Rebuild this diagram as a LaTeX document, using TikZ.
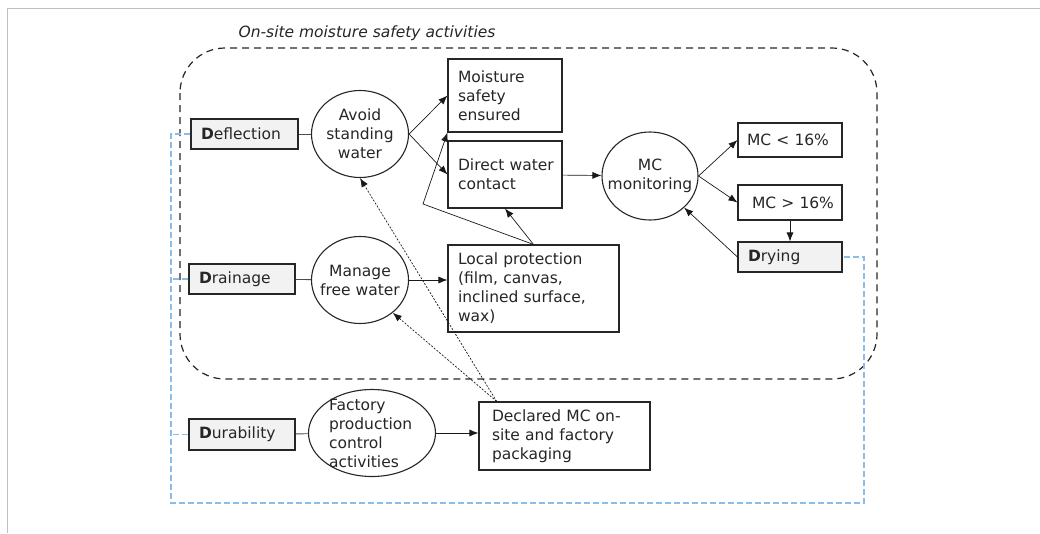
\documentclass[tikz,border=0pt]{standalone}
\usepackage{fontspec}
\setmainfont{DejaVu Sans}
\usetikzlibrary{shapes.geometric,arrows.meta}
\definecolor{guideblue}{RGB}{140,188,232}

\begin{document}
\begin{tikzpicture}[x=1pt,y=-1pt,font=\fontsize{15.5}{19}\selectfont,
  box/.style={draw=black!85,line width=1.1pt,fill=white,text=black!85,align=left,inner xsep=10pt,inner ysep=0pt},
  dbox/.style={box,fill=gray!10},
  oval/.style={draw=black!85,line width=1.1pt,ellipse,text=black!85,align=center,inner xsep=-14pt,inner ysep=-12pt},
  arr/.style={-{Latex[length=9pt,width=7pt]},line width=0.7pt,draw=black!90},
  link/.style={line width=0.9pt,draw=black!70},
  guide/.style={dash pattern=on 6pt off 3pt,line width=1.2pt,draw=guideblue}]
  \useasboundingbox (0,0) rectangle (1040,533);
  \draw[gray!50,line width=1pt] (7.5,533) -- (7.5,8) -- (1040,8);
  \node[text=black!85,font=\fontsize{15.5}{19}\selectfont\itshape] (title) at (367,33) {On-site moisture safety activities};
  \node[dbox,text width=87pt,minimum height=30pt] (deflection) at (244.5,134) {\textbf{D}eflection};
  \node[dbox,text width=86pt,minimum height=30pt] (drainage) at (242,279) {\textbf{D}rainage};
  \node[dbox,text width=86pt,minimum height=31pt] (durability) at (242,434.5) {\textbf{D}urability};
  \node[oval,minimum width=97pt,minimum height=87pt] (avoid) at (360,134) {Avoid\\standing\\water};
  \node[oval,minimum width=97pt,minimum height=87pt] (manage) at (360,280) {Manage\\free water};
  \node[oval,minimum width=127pt,minimum height=87pt,align=left,text width=86pt] (factory) at (372,433) {Factory\\production\\control\\activities};
  \node[box,text width=94pt,minimum height=73pt] (safe) at (505,95.5) {Moisture\\safety\\ensured};
  \node[box,text width=100pt,inner xsep=7pt,minimum height=67pt] (direct) at (505,174.5) {\hspace{3pt}Direct water\\\hspace{3pt}contact};
  \node[box,text width=151pt,minimum height=87pt] (local) at (533.5,288.5) {Local protection\\(film, canvas,\\inclined surface,\\wax)};
  \node[box,text width=145pt,inner xsep=13pt,minimum height=68pt] (declared) at (564.5,436) {Declared MC on-\\site and factory\\packaging};
  \node[oval,minimum width=96pt,minimum height=88pt] (monitor) at (650,176) {MC\\monitoring};
  \node[box,text width=90pt,inner xsep=7pt,minimum height=34pt] (low) at (790,140) {\hspace{2pt}MC < 16\%};
  \node[box,text width=90pt,inner xsep=7pt,minimum height=35pt] (high) at (790,202.5) {\hspace{7pt}MC > 16\%};
  \node[dbox,text width=84pt,minimum height=30pt] (drying) at (790,257) {\textbf{D}rying};
  \draw[dash pattern=on 7pt off 5pt,line width=1.2pt,black!85,rounded corners=45pt] (180,48) rectangle (877,379);
  \coordinate (kink) at (423,204);
  \coordinate (gl) at (171,503);
  \coordinate (gr) at (864,503);
  \draw[guide] (deflection.west) -| (gl) -- (gr) |- (drying.east);
  \draw[guide] (drainage.west) -- (drainage.west -| gl);
  \draw[guide] (durability.west) -- (durability.west -| gl);
  \draw[link] (deflection) -- (avoid);
  \draw[link] (drainage) -- (manage);
  \draw[link] (durability) -- (factory);
  \draw[arr] (avoid.east) -- (safe.west);
  \draw[arr] (avoid.east) -- (direct.west);
  \draw[arr] (direct) -- (monitor);
  \draw[arr] (monitor.east) -- (low.west);
  \draw[arr] (monitor.east) -- (high.west);
  \draw[arr] (high) -- (drying);
  \draw[arr] (drying.west) -- (monitor);
  \draw[arr] (manage.east) -- (manage.east -| local.west);
  \draw[arr] (local.north) -- (direct.south);
  \draw[arr] (local.north) -- (kink) -- (safe.south west);
  \draw[arr] (factory.east) -- (factory.east -| declared.west);
  \draw[arr,line width=0.7pt,dash pattern=on 2pt off 1.5pt] (declared.153) -- (avoid.south);
  \draw[arr,line width=0.7pt,dash pattern=on 2pt off 1.5pt] (declared.153) -- (manage.-45);
\end{tikzpicture}
\end{document}
